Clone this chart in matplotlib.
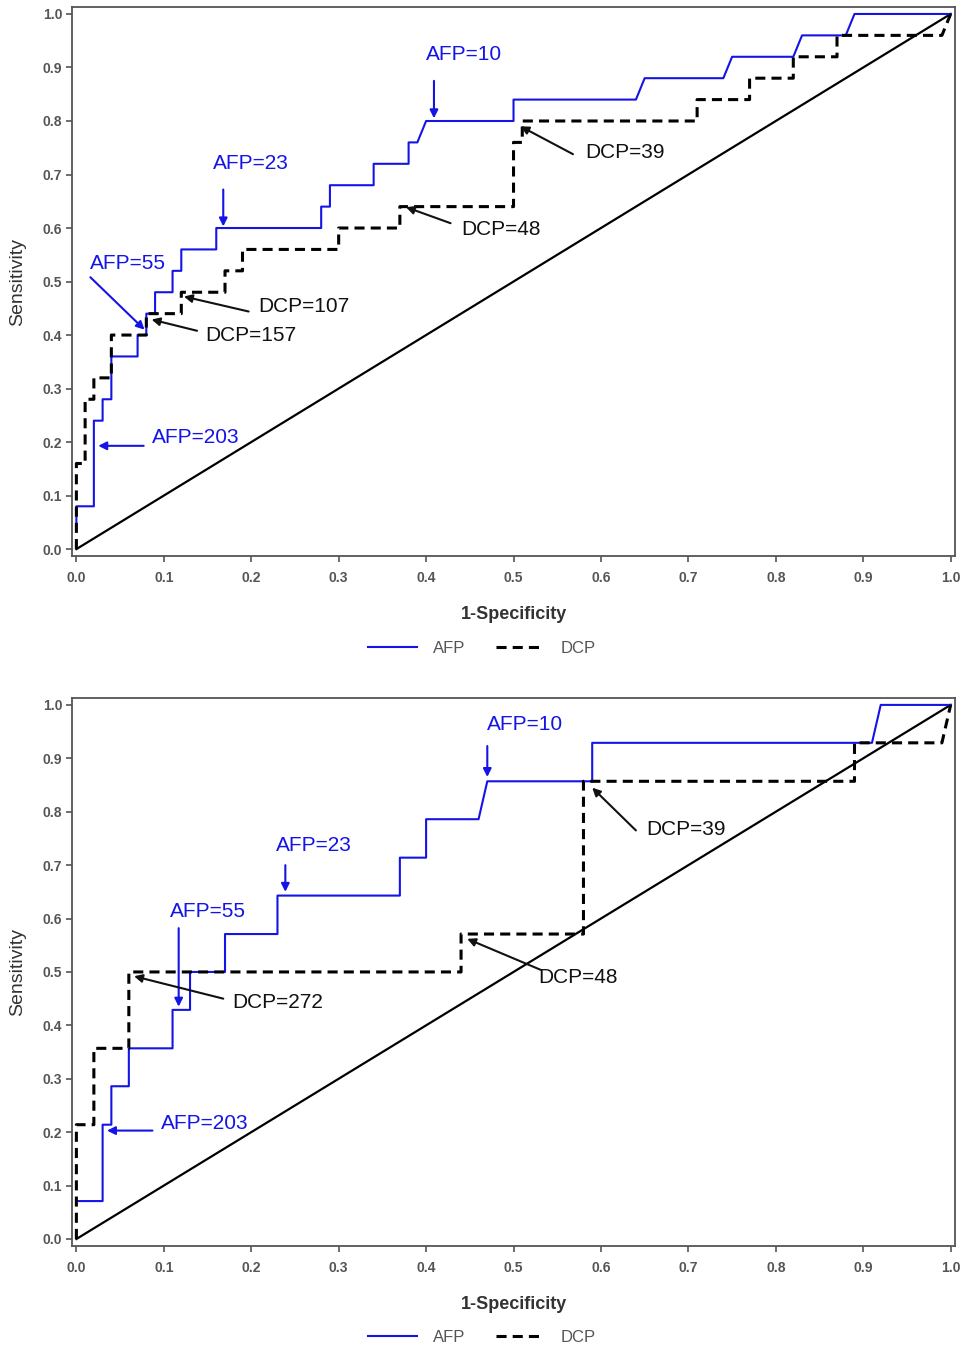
import matplotlib
matplotlib.use("Agg")
import matplotlib.pyplot as plt
from matplotlib.lines import Line2D

plt.rcParams["font.family"] = ["Liberation Sans", "DejaVu Sans"]

# ---- panel 1 (n = 25 positives) ----
afp1_fpr = [0.0, 0.0, 0.02, 0.02, 0.03, 0.03, 0.04, 0.04, 0.07, 0.07, 0.08, 0.08, 0.09, 0.09,
            0.11, 0.11, 0.12, 0.12, 0.16, 0.16, 0.28, 0.28, 0.29, 0.29, 0.34, 0.34, 0.38, 0.38,
            0.39, 0.40, 0.50, 0.50, 0.64, 0.65, 0.74, 0.75, 0.82, 0.83, 0.88, 0.89, 1.0]
afp1_tpr = [0.05, 0.08, 0.08, 0.24, 0.24, 0.28, 0.28, 0.36, 0.36, 0.40, 0.40, 0.44, 0.44, 0.48,
            0.48, 0.52, 0.52, 0.56, 0.56, 0.60, 0.60, 0.64, 0.64, 0.68, 0.68, 0.72, 0.72, 0.76,
            0.76, 0.80, 0.80, 0.84, 0.84, 0.88, 0.88, 0.92, 0.92, 0.96, 0.96, 1.0, 1.0]
dcp1_fpr = [0.0, 0.0, 0.01, 0.01, 0.02, 0.02, 0.04, 0.04, 0.08, 0.08, 0.12, 0.12, 0.17, 0.17,
            0.19, 0.19, 0.30, 0.30, 0.37, 0.37, 0.50, 0.50, 0.51, 0.51, 0.71, 0.71, 0.77, 0.77,
            0.82, 0.82, 0.87, 0.87, 0.99, 1.0]
dcp1_tpr = [0.0, 0.16, 0.16, 0.28, 0.28, 0.32, 0.32, 0.40, 0.40, 0.44, 0.44, 0.48, 0.48, 0.52,
            0.52, 0.56, 0.56, 0.60, 0.60, 0.64, 0.64, 0.76, 0.76, 0.80, 0.80, 0.84, 0.84, 0.88,
            0.88, 0.92, 0.92, 0.96, 0.96, 1.0]

# cut-off labels: (text, colour, text x, text y, arrow tail x, y, arrow head x, y)
notes1 = [
    ("AFP=10", "blue", 0.443, 0.925, 0.409, 0.875, 0.409, 0.805),
    ("AFP=23", "blue", 0.200, 0.720, 0.168, 0.672, 0.168, 0.603),
    ("AFP=55", "blue", 0.059, 0.534, 0.016, 0.508, 0.078, 0.410),
    ("AFP=203", "blue", 0.137, 0.208, 0.077, 0.193, 0.025, 0.193),
    ("DCP=39", "black", 0.628, 0.742, 0.568, 0.738, 0.508, 0.790),
    ("DCP=48", "black", 0.486, 0.597, 0.428, 0.609, 0.377, 0.639),
    ("DCP=107", "black", 0.260, 0.453, 0.197, 0.444, 0.123, 0.472),
    ("DCP=157", "black", 0.200, 0.399, 0.138, 0.408, 0.086, 0.429),
]

# ---- panel 2 (n = 14 positives) ----
afp2_fpr = [0.0, 0.03, 0.03, 0.04, 0.04, 0.06, 0.06, 0.11, 0.11, 0.13, 0.13, 0.17, 0.17,
            0.23, 0.23, 0.37, 0.37, 0.40, 0.40, 0.46, 0.47, 0.59, 0.59, 0.91, 0.92, 1.0]
afp2_tpr = [0.071, 0.071, 0.214, 0.214, 0.286, 0.286, 0.357, 0.357, 0.429, 0.429, 0.500, 0.500,
            0.571, 0.571, 0.643, 0.643, 0.714, 0.714, 0.786, 0.786, 0.857, 0.857, 0.929, 0.929,
            1.0, 1.0]
dcp2_fpr = [0.0, 0.0, 0.02, 0.02, 0.06, 0.06, 0.44, 0.44, 0.58, 0.58, 0.89, 0.89, 0.99, 1.0]
dcp2_tpr = [0.0, 0.214, 0.214, 0.357, 0.357, 0.500, 0.500, 0.571, 0.571, 0.857, 0.857, 0.929,
            0.929, 1.0]

notes2 = [
    ("AFP=10", "blue", 0.513, 0.963, 0.470, 0.923, 0.470, 0.865),
    ("AFP=23", "blue", 0.272, 0.737, 0.239, 0.700, 0.239, 0.650),
    ("AFP=55", "blue", 0.150, 0.614, 0.117, 0.582, 0.117, 0.435),
    ("AFP=203", "blue", 0.147, 0.216, 0.087, 0.203, 0.035, 0.203),
    ("DCP=39", "black", 0.697, 0.767, 0.640, 0.765, 0.590, 0.845),
    ("DCP=48", "black", 0.574, 0.490, 0.531, 0.504, 0.447, 0.562),
    ("DCP=272", "black", 0.230, 0.442, 0.168, 0.450, 0.066, 0.492),
]

ticks = [0.0, 0.1, 0.2, 0.3, 0.4, 0.5, 0.6, 0.7, 0.8, 0.9, 1.0]
grey = "#555555"
blue = "#1414e6"
dash = (0, (3.3, 2.0))


def draw_panel(ax, afp_x, afp_y, dcp_x, dcp_y, notes):
    ax.plot([0, 1], [0, 1], color="black", lw=1.6, zorder=2)
    ax.plot(afp_x, afp_y, color=blue, lw=1.5, zorder=3)
    ax.plot(dcp_x, dcp_y, color="black", lw=2.2, linestyle=dash, zorder=4)

    for txt, col, tx, ty, x0, y0, x1, y1 in notes:
        c = blue if col == "blue" else "#111111"
        ax.text(tx, ty, txt, color=c, fontsize=15, ha="center", va="center", zorder=6)
        ax.annotate("", xy=(x1, y1), xytext=(x0, y0), zorder=5,
                    arrowprops=dict(arrowstyle="-|>", color=c, lw=1.5,
                                    mutation_scale=12, shrinkA=0, shrinkB=0))

    ax.set_xlim(-0.005, 1.005)
    ax.set_ylim(-0.013, 1.013)
    ax.set_xticks(ticks)
    ax.set_yticks(ticks)
    ax.set_xticklabels([f"{t:.1f}" for t in ticks])
    ax.set_yticklabels([f"{t:.1f}" for t in ticks])
    ax.tick_params(direction="out", length=4, width=1.2, colors=grey, labelsize=10)
    ax.tick_params(axis="x", pad=7)
    ax.tick_params(axis="y", pad=3)
    for lab in ax.get_xticklabels() + ax.get_yticklabels():
        lab.set_fontweight("bold")
    for sp in ax.spines.values():
        sp.set_color(grey)
        sp.set_linewidth(1.3)
    ax.set_xlabel("1-Specificity", fontsize=13, fontweight="bold", color="#333333", labelpad=15)


fig = plt.figure(figsize=(9.64, 13.49), dpi=100)
ax1 = fig.add_axes([0.0747, 0.5878, 0.916, 0.407])
ax2 = fig.add_axes([0.0747, 0.0764, 0.916, 0.4062])
draw_panel(ax1, afp1_fpr, afp1_tpr, dcp1_fpr, dcp1_tpr, notes1)
draw_panel(ax2, afp2_fpr, afp2_tpr, dcp2_fpr, dcp2_tpr, notes2)

handles = [Line2D([], [], color=blue, lw=1.5),
           Line2D([], [], color="black", lw=2.2, linestyle=dash)]
for ypos, ax in [(0.5195, ax1), (0.0085, ax2)]:
    pos = ax.get_position()
    fig.text(18 / 964, pos.y0 + pos.height / 2, "Sensitivity",
             rotation=90, ha="center", va="center", fontsize=14, color="#333333")
    fig.legend(handles, ["AFP", "DCP"], loc="center", bbox_to_anchor=(0.5, ypos), ncol=2,
               frameon=False, fontsize=12, handlelength=2.9, handletextpad=1.0,
               columnspacing=1.8, labelcolor="#555555")

fig.savefig("out.png", dpi=100)
